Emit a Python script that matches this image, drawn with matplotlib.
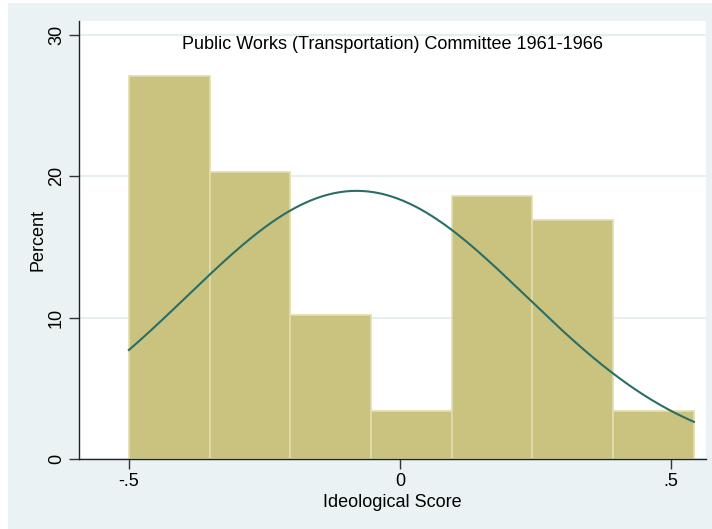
import numpy as np
import matplotlib
matplotlib.use("Agg")
import matplotlib.pyplot as plt
import matplotlib.patches as patches

plt.rcParams['font.family'] = ['Liberation Sans', 'DejaVu Sans']

# Histogram data (percent per bin)
bin_edges = [-0.5, -0.3511, -0.2022, -0.0533, 0.0956, 0.2445, 0.3934, 0.5423]
percents = [27.12, 20.34, 10.17, 3.39, 18.64, 16.95, 3.39]

# Normal overlay parameters (mean, sd of ideological score)
score_mean = -0.08
score_sd = 0.313

x_ticks = [-0.5, 0, 0.5]
x_tick_labels = ['-.5', '0', '.5']
y_ticks = [0, 10, 20, 30]
y_tick_labels = ['0', '10', '20', '30']

title = "Public Works (Transportation) Committee 1961-1966"

bg = '#EAF2F3'
bar_color = '#CAC27F'
bar_edge = '#E2DDAE'
line_color = '#2A6E66'

fig = plt.figure(figsize=(7.12, 5.29), dpi=100, facecolor='white')
# outer bluish background (image is cropped slightly at left/top)
fig.patches.append(patches.Rectangle((8 / 712, 0), 1, (529 - 3) / 529,
                                     transform=fig.transFigure, facecolor=bg,
                                     edgecolor='none', zorder=-10))

ax = fig.add_axes([79 / 712, 70 / 529, 627 / 712, 438 / 529])
ax.set_facecolor('white')

widths = np.diff(bin_edges)
ax.bar(bin_edges[:-1], percents, width=widths, align='edge', color=bar_color,
       edgecolor=bar_edge, linewidth=1.2, zorder=2)

# normal density scaled to percent per bin
bw = widths.mean()
xs = np.linspace(bin_edges[0], bin_edges[-1], 300)
ys = 100 * bw * np.exp(-0.5 * ((xs - score_mean) / score_sd) ** 2) / (score_sd * np.sqrt(2 * np.pi))
ax.plot(xs, ys, color=line_color, linewidth=1.5, zorder=3)

ax.set_xlim(-0.592, 0.5646)
ax.set_ylim(0, 31.0)

ax.set_yticks(y_ticks)
ax.set_yticklabels(y_tick_labels, rotation=90, va='center')
ax.set_xticks(x_ticks)
ax.set_xticklabels(x_tick_labels)
ax.tick_params(axis='both', length=7, width=1, color='#333333', labelsize=13, pad=3)

ax.yaxis.grid(True, color='#E6EEF1', linewidth=1.5, zorder=0)
ax.set_axisbelow(True)

for s in ['top', 'right']:
    ax.spines[s].set_visible(False)
for s in ['left', 'bottom']:
    ax.spines[s].set_color('#222222')
    ax.spines[s].set_linewidth(1)

ax.set_xlabel('Ideological Score', fontsize=13, labelpad=3)
ax.set_ylabel('Percent', fontsize=13, labelpad=1)

ax.text(0.5, 0.947, title, transform=ax.transAxes, ha='center', va='center', fontsize=13)

fig.savefig('out.png', dpi=100, facecolor=fig.get_facecolor())
